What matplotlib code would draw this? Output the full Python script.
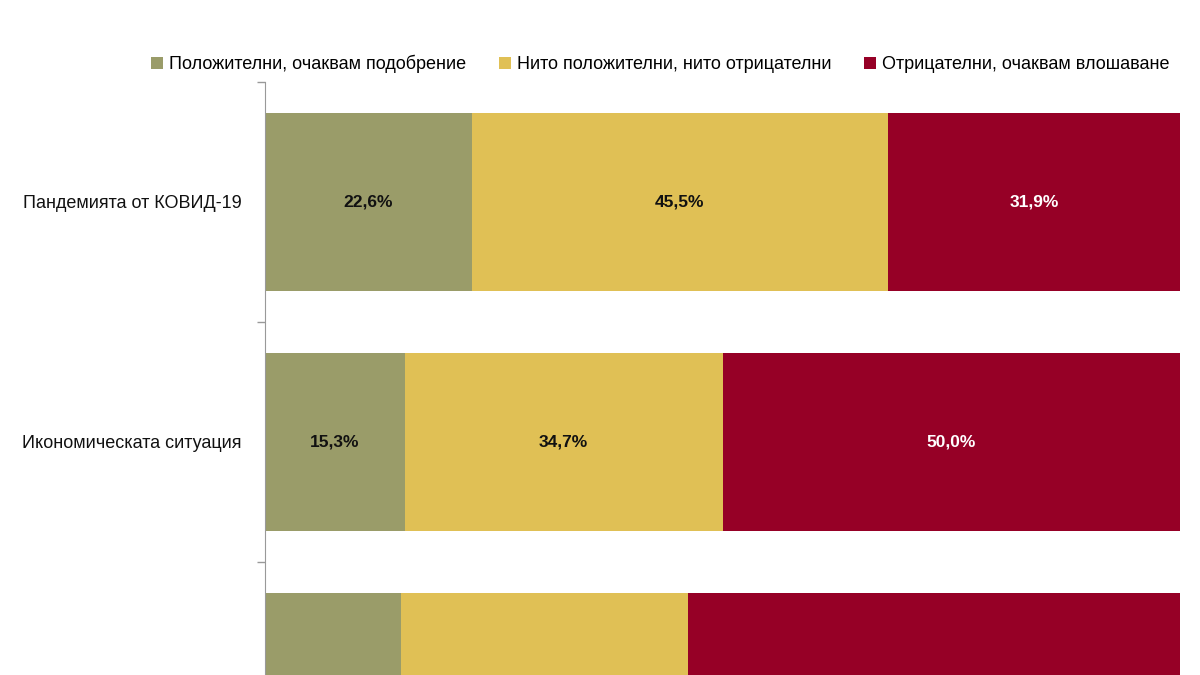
import matplotlib
matplotlib.use("Agg")
import matplotlib.pyplot as plt
from matplotlib.patches import Patch
import numpy as np

plt.rcParams['font.family'] = ['Liberation Sans', 'DejaVu Sans']

categories = ["Пандемията от КОВИД-19", "Икономическата ситуация", "Политическата ситуация"]
series_names = ["Положителни, очаквам подобрение", "Нито положителни, нито отрицателни",
                "Отрицателни, очаквам влошаване"]
positive = [22.6, 15.3, 14.9]
neutral = [45.5, 34.7, 31.3]
negative = [31.9, 50.0, 53.8]
colors = ["#9a9c69", "#e0c055", "#960026"]
text_colors = ["#111111", "#111111", "#ffffff"]

fig = plt.figure(figsize=(12, 6.75), dpi=100)
ax = fig.add_axes([265/1200, (675-802)/675, (1180-265)/1200, 720/675])

y = np.arange(len(categories))
left = np.zeros(len(categories))
for vals, col, tc, name in zip([positive, neutral, negative], colors, text_colors, series_names):
    vals = np.array(vals)
    ax.barh(y, vals, left=left, height=0.745, color=col, label=name)
    for yi, l, v in zip(y, left, vals):
        ax.text(l + v/2, yi, f"{v:.1f}%".replace(".", ","), ha="center", va="center",
                color=tc, fontsize=12.5, fontweight="bold")
    left += vals

ax.set_xlim(0, 100)
ax.set_ylim(len(categories) - 0.5, -0.5)
ax.set_yticks(y)
ax.set_yticklabels(categories, fontsize=13, color="#111111")
ax.tick_params(axis="y", which="major", length=0, pad=17)
ax.set_yticks(np.arange(-0.5, len(categories), 1.0), minor=True)
ax.tick_params(axis="y", which="minor", length=6, color="#999999", width=1)
ax.set_xticks([])
for s in ["top", "right", "bottom"]:
    ax.spines[s].set_visible(False)
ax.spines["left"].set_color("#999999")

handles = [Patch(facecolor=c, label=n) for c, n in zip(colors, series_names)]
fig.legend(handles=handles, loc="center", bbox_to_anchor=(660/1200, 1 - 64/675), ncol=3,
           frameon=False, fontsize=13, handlelength=0.7, handleheight=0.7,
           handletextpad=0.3, columnspacing=1.8)

fig.savefig("out.png", dpi=100)
